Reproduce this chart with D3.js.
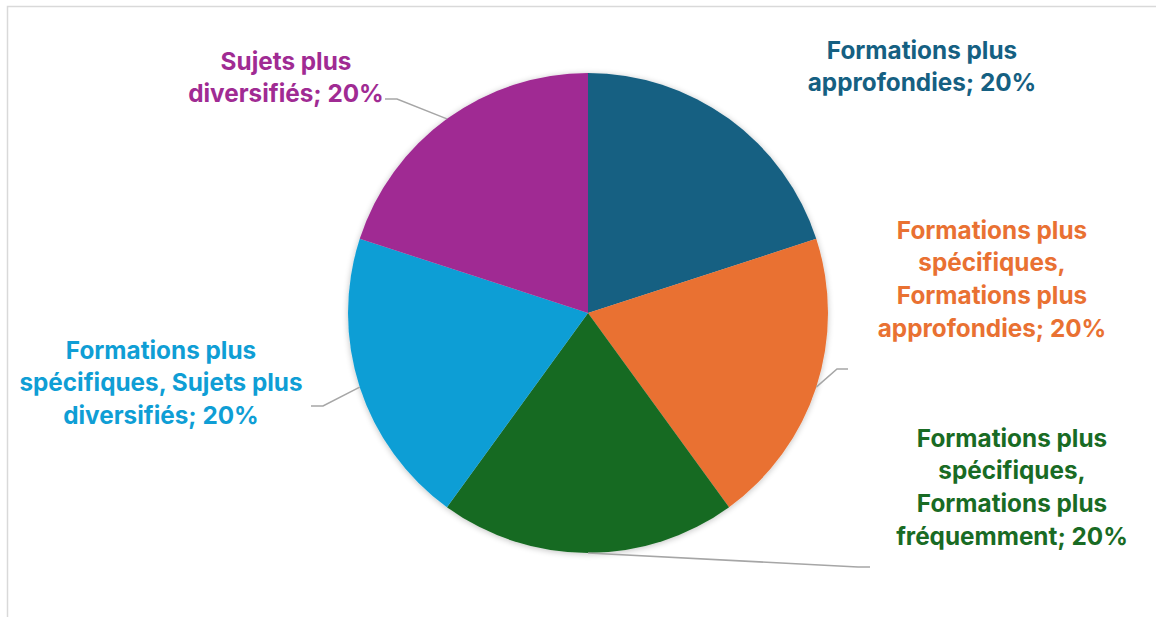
<!DOCTYPE html>
<html>
<head>
<meta charset="utf-8">
<script src="https://cdn.jsdelivr.net/npm/d3@7"></script>
<style>
  html, body { margin: 0; padding: 0; background: #fff; }
  svg { display: block; }
</style>
</head>
<body>
<svg id="chart" width="1156" height="617"></svg>
<script>
// Survey answers: each combination is one slice of the pie.
const categories = [
  "Formations plus approfondies",
  "Formations plus spécifiques, Formations plus approfondies",
  "Formations plus spécifiques, Formations plus fréquemment",
  "Formations plus spécifiques, Sujets plus diversifiés",
  "Sujets plus diversifiés"
];
const shares = [20, 20, 20, 20, 20];
const labelLines = [
  ["Formations plus", "approfondies; 20%"],
  ["Formations plus", "spécifiques,", "Formations plus", "approfondies; 20%"],
  ["Formations plus", "spécifiques,", "Formations plus", "fréquemment; 20%"],
  ["Formations plus", "spécifiques, Sujets plus", "diversifiés; 20%"],
  ["Sujets plus", "diversifiés; 20%"]
];
const colors = ["#156082", "#E97132", "#196B24", "#0F9ED5", "#A02B93"];

// Layout of the label blocks: centre x, first line centre y, and leader elbow/end points.
const labelLayout = [
  { x: 922, y: 50, leader: null },
  { x: 992, y: 230, leader: { elbow: [837, 369], end: [848, 369] } },
  { x: 1012, y: 438, leader: { elbow: [858, 567], end: [870, 567] } },
  { x: 161, y: 350, leader: { elbow: [323, 406], end: [311, 406] } },
  { x: 286, y: 61, leader: { elbow: [397, 99], end: [385, 99] } }
];

const W = 1156, H = 617;
const cx = 588, cy = 313, R = 240;
const lineGap = 32.6;

const svg = d3.select("#chart");

// Chart frame
svg.append("rect")
  .attr("x", 7.5).attr("y", 6.5)
  .attr("width", W + 10).attr("height", H + 10)
  .attr("fill", "#fff")
  .attr("stroke", "#d9d9d9")
  .attr("stroke-width", 1.5);

const defs = svg.append("defs");
const shadow = defs.append("filter").attr("id", "pieShadow")
  .attr("x", "-20%").attr("y", "-20%").attr("width", "140%").attr("height", "140%");
shadow.append("feGaussianBlur").attr("in", "SourceAlpha").attr("stdDeviation", 3).attr("result", "blur");
shadow.append("feOffset").attr("in", "blur").attr("dx", 0).attr("dy", 1).attr("result", "off");
shadow.append("feComponentTransfer").attr("in", "off").attr("result", "soft")
  .append("feFuncA").attr("type", "linear").attr("slope", 0.25);
const merge = shadow.append("feMerge");
merge.append("feMergeNode").attr("in", "soft");
merge.append("feMergeNode").attr("in", "SourceGraphic");

const data = categories.map((c, i) => ({ name: c, value: shares[i], i }));

const pie = d3.pie().sort(null).value(d => d.value);
const arcs = pie(data);
const arc = d3.arc().innerRadius(0).outerRadius(R);
const color = d3.scaleOrdinal().domain(categories).range(colors);

const g = svg.append("g").attr("transform", `translate(${cx},${cy})`);
g.append("g").attr("filter", "url(#pieShadow)")
  .selectAll("path")
  .data(arcs)
  .join("path")
  .attr("d", arc)
  .attr("fill", d => color(d.data.name));

// Leader lines from the outer edge of each slice (at its mid angle)
const edgePoint = d => {
  const a = (d.startAngle + d.endAngle) / 2;
  return [cx + R * Math.sin(a), cy - R * Math.cos(a)];
};
svg.append("g")
  .selectAll("polyline")
  .data(arcs.filter(d => labelLayout[d.index].leader))
  .join("polyline")
  .attr("points", d => {
    const L = labelLayout[d.index].leader;
    return [edgePoint(d), L.elbow, L.end].map(p => p.join(",")).join(" ");
  })
  .attr("fill", "none")
  .attr("stroke", "#a6a6a6")
  .attr("stroke-width", 1.5);

// Labels
const fontFamily = "Inter, 'Open Sans', 'Liberation Sans', sans-serif";
const labels = svg.append("g")
  .selectAll("text")
  .data(arcs)
  .join("text")
  .attr("text-anchor", "middle")
  .attr("font-family", fontFamily)
  .attr("font-weight", 700)
  .attr("fill", d => color(d.data.name));

labels.each(function(d) {
  const L = labelLayout[d.index];
  d3.select(this).selectAll("tspan")
    .data(labelLines[d.index])
    .join("tspan")
    .attr("x", L.x)
    .attr("y", (t, k) => L.y + k * lineGap)
    .attr("dy", "0.36em")
    .text(t => t);
});

// Size the text so the two sample lines span about 195px and 224px together
const probe = svg.append("text").attr("font-family", fontFamily).attr("font-weight", 700)
  .attr("font-size", 20);
probe.text("Formations plus");
const wa = probe.node().getComputedTextLength();
probe.text("approfondies; 20%");
const wb = probe.node().getComputedTextLength();
probe.remove();
const fs = 20 * (195 + 224) / (wa + wb);
labels.attr("font-size", fs);
</script>
</body>
</html>
